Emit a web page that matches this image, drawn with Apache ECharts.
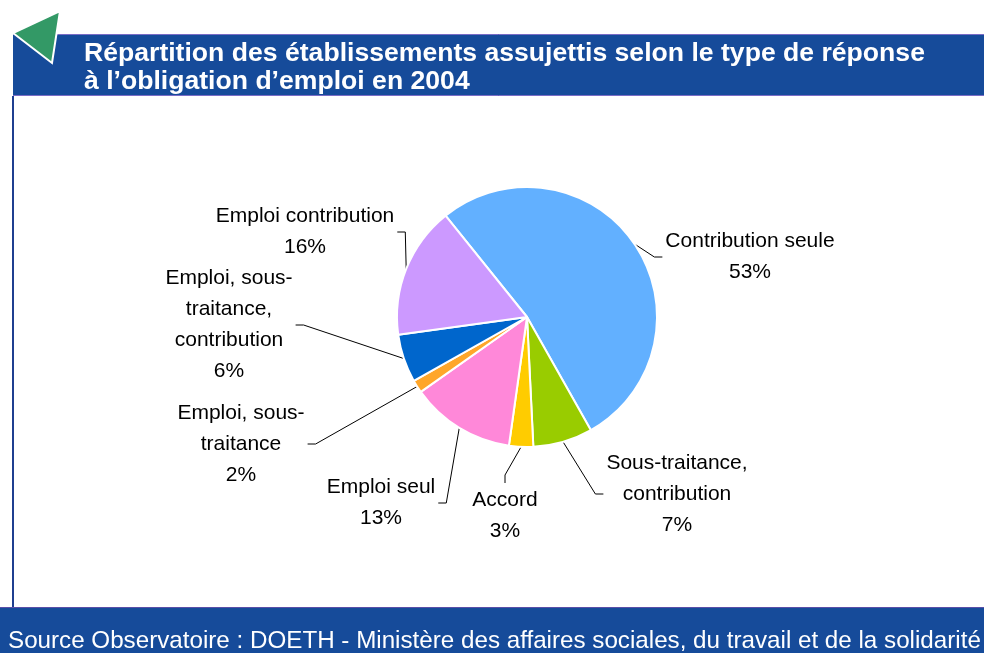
<!DOCTYPE html>
<html>
<head>
<meta charset="utf-8">
<script src="https://cdn.jsdelivr.net/npm/echarts/dist/echarts.min.js"></script>
<style>
  html, body { margin: 0; padding: 0; background: #fff; }
  #chart { width: 984px; height: 653px; }
</style>
</head>
<body>
<div id="chart"></div>
<script>
// slices, clockwise from the upper left
const categories = [
  "Contribution seule",
  "Sous-traitance,\ncontribution",
  "Accord",
  "Emploi seul",
  "Emploi, sous-\ntraitance",
  "Emploi, sous-\ntraitance,\ncontribution",
  "Emploi contribution",
];
const shares = [52.6, 7.4, 3.0, 13.0, 1.6, 6.0, 16.4];
const colors = ["#62B0FF", "#99CC00", "#FFCC00", "#FF88D9", "#FFA62A", "#0066CC", "#CC99FF"];

const titleLines = [
  "Répartition des établissements assujettis selon le type de réponse",
  "à l’obligation d’emploi en 2004",
];
const sourceText = "Source Observatoire : DOETH - Ministère des affaires sociales, du travail et de la solidarité";

// label placement: centre x, centre y, side of the pie
const labelPos = [
  [750, 257, "right"],
  [677, 494, "right"],
  [505, 516, "top"],
  [381, 503, "left"],
  [241, 444, "left"],
  [229, 325, "left"],
  [305, 232, "left"],
];

const CX = 527, CY = 317, R = 130, START = 128.8;
const FONT = "Liberation Sans";

const chart = echarts.init(document.getElementById("chart"), null, { renderer: "canvas" });

const total = shares.reduce((a, b) => a + b, 0);
function midAngle(i) {
  let before = 0;
  for (let k = 0; k < i; k++) before += shares[k];
  const a = START - (before + shares[i] / 2) / total * 360;
  return a * Math.PI / 180;
}

function placeLabel(params) {
  const i = params.dataIndex;
  const [x, y, side] = labelPos[i];
  const w = params.labelRect.width, h = params.labelRect.height;
  const a = midAngle(i);
  const start = [CX + R * Math.cos(a), CY - R * Math.sin(a)];
  let end, elbow;
  if (side === "right") {
    end = [x - w / 2 - 3, y];
    elbow = [end[0] - 8, y];
  } else if (side === "left") {
    end = [x + w / 2 + 3, y];
    elbow = [end[0] + 8, y];
  } else {
    end = [x, y - h / 2 - 2];
    elbow = [x, end[1] - 8];
  }
  return {
    x: x, y: y, align: "center", verticalAlign: "middle",
    labelLinePoints: [start, elbow, end],
  };
}

const titleGraphics = titleLines.map((t, i) => ({
  type: "text", x: 84, y: 54 + i * 28, z: 10,
  style: { text: t, fill: "#ffffff", font: "bold 26.6px '" + FONT + "'", verticalAlign: "middle" },
}));

chart.setOption({
  animation: false,
  backgroundColor: "#ffffff",
  graphic: [
    { type: "rect", shape: { x: 13, y: 34, width: 971, height: 62 }, style: { fill: "#164B9A" }, z: 1 },
    { type: "line", shape: { x1: 13, y1: 34.5, x2: 984, y2: 34.5 }, style: { stroke: "#7A6CC6", lineWidth: 1 }, z: 2 },
    { type: "line", shape: { x1: 13, y1: 95.5, x2: 984, y2: 95.5 }, style: { stroke: "#7A6CC6", lineWidth: 1 }, z: 2 },
    { type: "line", shape: { x1: 13, y1: 96, x2: 13, y2: 607 }, style: { stroke: "#1F3F90", lineWidth: 2 }, z: 2 },
    { type: "rect", shape: { x: 0, y: 607, width: 984, height: 46 }, style: { fill: "#164B9A" }, z: 1 },
    { type: "line", shape: { x1: 0, y1: 607.5, x2: 984, y2: 607.5 }, style: { stroke: "#5A4FA8", lineWidth: 1 }, z: 2 },
    {
      type: "polygon",
      shape: { points: [[13, 33], [60, 11], [52, 63]] },
      style: { fill: "#339966", stroke: "#ffffff", lineWidth: 2 },
      z: 5,
    },
    ...titleGraphics,
    {
      type: "text", x: 8, y: 641, z: 5,
      style: { text: sourceText, fill: "#ffffff", font: "24.2px '" + FONT + "'", verticalAlign: "middle" },
    },
  ],
  series: [{
    type: "pie",
    silent: true,
    center: [CX, CY],
    radius: R,
    startAngle: START,
    clockwise: true,
    percentPrecision: 0,
    color: colors,
    itemStyle: { borderColor: "#ffffff", borderWidth: 2 },
    label: {
      show: true,
      position: "outside",
      formatter: "{b}\n{d}%",
      color: "#000000",
      fontFamily: FONT,
      fontSize: 21,
      lineHeight: 31,
      align: "center",
    },
    labelLine: { show: true, lineStyle: { color: "#000000", width: 1 } },
    labelLayout: placeLabel,
    data: categories.map((name, i) => ({ name: name, value: shares[i] })),
  }],
});
</script>
</body>
</html>
